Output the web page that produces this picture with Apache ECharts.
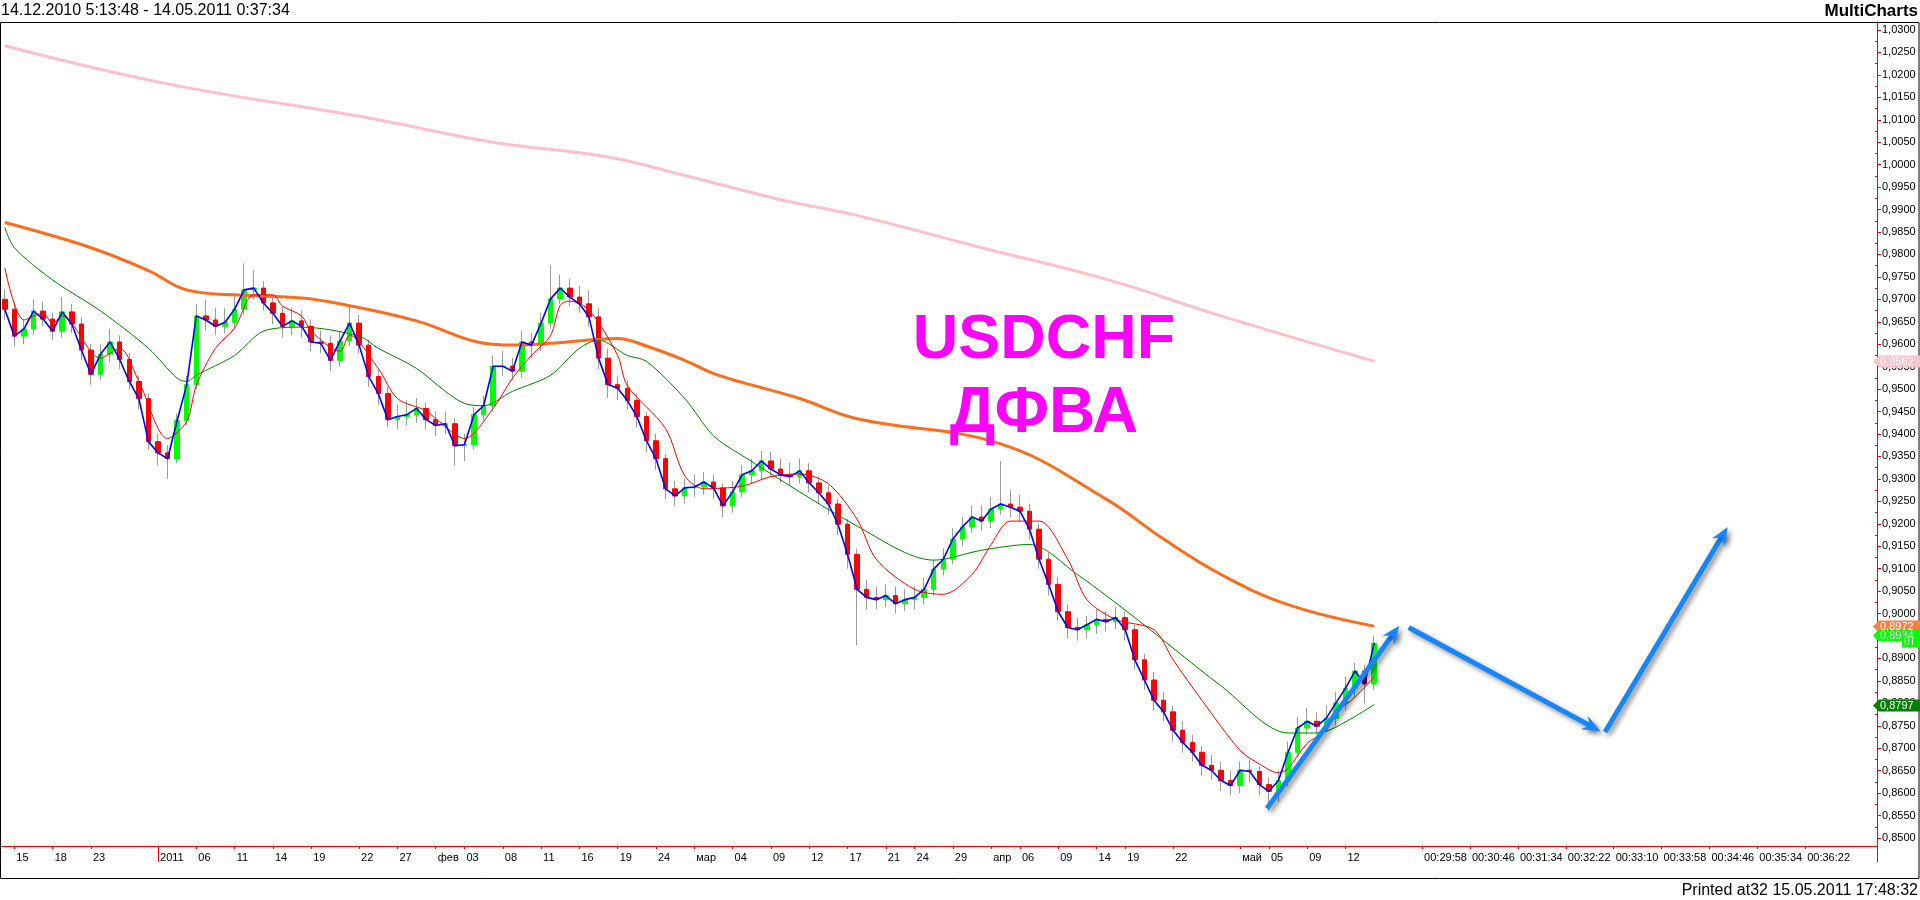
<!DOCTYPE html>
<html><head><meta charset="utf-8">
<script src="https://cdn.jsdelivr.net/npm/echarts@6/dist/echarts.min.js"></script>
<style>html,body{margin:0;padding:0;background:#fff}#c{width:1920px;height:900px}</style>
</head><body><div id="c"></div>
<script>
const SLOTS = 196;
const open = [0.9700,0.9678,0.9618,0.9634,0.9674,0.9656,0.9629,0.9672,0.9645,0.9587,
0.9533,0.9578,0.9605,0.9566,0.9517,0.9479,0.9383,0.9358,0.9345,0.9430,
0.9510,0.9663,0.9654,0.9640,0.9649,0.9678,0.9721,0.9725,0.9692,0.9669,
0.9640,0.9652,0.9640,0.9605,0.9602,0.9564,0.9607,0.9647,0.9598,0.9528,
0.9490,0.9432,0.9439,0.9443,0.9457,0.9432,0.9419,0.9423,0.9374,0.9376,
0.9443,0.9463,0.9551,0.9551,0.9540,0.9605,0.9598,0.9647,0.9701,0.9725,
0.9705,0.9690,0.9661,0.9569,0.9510,0.9502,0.9475,0.9439,0.9385,0.9345,
0.9278,0.9262,0.9280,0.9282,0.9293,0.9280,0.9240,0.9271,0.9309,0.9318,
0.9340,0.9322,0.9309,0.9305,0.9318,0.9291,0.9269,0.9244,0.9199,0.9132,
0.9054,0.9036,0.9031,0.9040,0.9022,0.9031,0.9036,0.9054,0.9099,0.9121,
0.9166,0.9193,0.9215,0.9206,0.9233,0.9244,0.9237,0.9228,0.9188,0.9121,
0.9065,0.9004,0.8969,0.8964,0.8975,0.8987,0.8982,0.8991,0.8964,0.8897,
0.8852,0.8807,0.8781,0.8740,0.8713,0.8691,0.8662,0.8651,0.8628,0.8617,
0.8651,0.8648,0.8619,0.8604,0.8628,0.8691,0.8745,0.8760,0.8749,0.8767,
0.8801,0.8834,0.8872,0.8843];
const close = [0.9678,0.9618,0.9634,0.9674,0.9656,0.9629,0.9672,0.9645,0.9587,0.9533,
0.9578,0.9605,0.9566,0.9517,0.9479,0.9383,0.9358,0.9345,0.9430,0.9510,
0.9663,0.9654,0.9640,0.9649,0.9678,0.9721,0.9725,0.9692,0.9669,0.9640,
0.9652,0.9640,0.9605,0.9602,0.9564,0.9607,0.9647,0.9598,0.9528,0.9490,
0.9432,0.9439,0.9443,0.9457,0.9432,0.9419,0.9423,0.9374,0.9376,0.9443,
0.9463,0.9551,0.9551,0.9540,0.9605,0.9598,0.9647,0.9701,0.9725,0.9705,
0.9690,0.9661,0.9569,0.9510,0.9502,0.9475,0.9439,0.9385,0.9345,0.9278,
0.9262,0.9280,0.9282,0.9293,0.9280,0.9240,0.9271,0.9309,0.9318,0.9340,
0.9322,0.9309,0.9305,0.9318,0.9291,0.9269,0.9244,0.9199,0.9132,0.9054,
0.9036,0.9031,0.9040,0.9022,0.9031,0.9036,0.9054,0.9099,0.9121,0.9166,
0.9193,0.9215,0.9206,0.9233,0.9244,0.9237,0.9228,0.9188,0.9121,0.9065,
0.9004,0.8969,0.8964,0.8975,0.8987,0.8982,0.8991,0.8964,0.8897,0.8852,
0.8807,0.8781,0.8740,0.8713,0.8691,0.8662,0.8651,0.8628,0.8617,0.8651,
0.8648,0.8619,0.8604,0.8628,0.8691,0.8745,0.8760,0.8749,0.8767,0.8801,
0.8834,0.8872,0.8843,0.8934];
const high = [0.9722,0.9695,0.9655,0.9700,0.9695,0.9670,0.9705,0.9690,0.9660,0.9600,
0.9600,0.9635,0.9620,0.9580,0.9530,0.9490,0.9400,0.9375,0.9445,0.9530,
0.9690,0.9700,0.9680,0.9680,0.9710,0.9780,0.9765,0.9740,0.9705,0.9685,
0.9680,0.9675,0.9655,0.9630,0.9620,0.9630,0.9690,0.9665,0.9610,0.9545,
0.9505,0.9465,0.9475,0.9480,0.9470,0.9450,0.9450,0.9435,0.9400,0.9460,
0.9485,0.9575,0.9585,0.9570,0.9630,0.9625,0.9670,0.9775,0.9755,0.9745,
0.9730,0.9720,0.9680,0.9590,0.9530,0.9520,0.9490,0.9450,0.9400,0.9355,
0.9295,0.9300,0.9310,0.9315,0.9310,0.9290,0.9295,0.9330,0.9345,0.9362,
0.9360,0.9345,0.9335,0.9345,0.9335,0.9305,0.9285,0.9255,0.9210,0.9145,
0.9075,0.9060,0.9065,0.9060,0.9055,0.9060,0.9080,0.9120,0.9145,0.9190,
0.9215,0.9240,0.9240,0.9260,0.9340,0.9275,0.9265,0.9245,0.9200,0.9135,
0.9080,0.9020,0.8990,0.8995,0.9010,0.9005,0.9015,0.9005,0.8975,0.8910,
0.8870,0.8825,0.8795,0.8760,0.8730,0.8705,0.8685,0.8670,0.8650,0.8670,
0.8675,0.8660,0.8635,0.8650,0.8715,0.8770,0.8790,0.8780,0.8795,0.8825,
0.8860,0.8890,0.8885,0.8950];
const low = [0.9655,0.9595,0.9600,0.9620,0.9640,0.9610,0.9615,0.9625,0.9565,0.9510,
0.9520,0.9560,0.9545,0.9500,0.9455,0.9365,0.9330,0.9300,0.9335,0.9420,
0.9500,0.9630,0.9620,0.9625,0.9635,0.9665,0.9700,0.9675,0.9645,0.9615,
0.9620,0.9615,0.9585,0.9580,0.9540,0.9550,0.9595,0.9580,0.9505,0.9465,
0.9415,0.9410,0.9420,0.9425,0.9410,0.9395,0.9400,0.9330,0.9340,0.9365,
0.9430,0.9450,0.9530,0.9520,0.9525,0.9570,0.9585,0.9635,0.9690,0.9685,
0.9670,0.9640,0.9545,0.9480,0.9475,0.9455,0.9415,0.9360,0.9320,0.9255,
0.9240,0.9245,0.9260,0.9265,0.9255,0.9215,0.9225,0.9260,0.9290,0.9300,
0.9305,0.9290,0.9285,0.9290,0.9270,0.9245,0.9220,0.9175,0.9100,0.8930,
0.9010,0.9010,0.9015,0.9000,0.9005,0.9010,0.9020,0.9040,0.9085,0.9110,
0.9150,0.9180,0.9185,0.9190,0.9220,0.9215,0.9205,0.9165,0.9100,0.9040,
0.8985,0.8945,0.8940,0.8945,0.8955,0.8960,0.8965,0.8940,0.8875,0.8830,
0.8785,0.8760,0.8715,0.8690,0.8670,0.8640,0.8630,0.8605,0.8595,0.8600,
0.8625,0.8595,0.8560,0.8580,0.8615,0.8680,0.8730,0.8730,0.8735,0.8750,
0.8785,0.8815,0.8800,0.8830];

const pinkMA = [[0,1.0265],[17,1.0180],[38,1.0104],[51,1.0050],[63,1.0017],[71,0.9976],[81,0.9922],[89,0.9887],[102,0.9815],[115,0.9745],[127,0.9663],[143,0.9562]];
const orangeMA = [[0,0.9871],[9,0.9815],[15,0.9764],[19,0.9721],[24,0.9710],[31,0.9703],[35,0.9690],[43,0.9652],[50,0.9602],[53,0.9598],[57,0.9602],[64,0.9613],[67,0.9596],[71,0.9564],[74,0.9535],[77,0.9515],[83,0.9479],[89,0.9434],[104,0.9378],[115,0.9255],[121,0.9166],[127,0.9087],[134,0.9020],[143,0.8972]];
const greenMA = [[0,0.9860],[1,0.9815],[5,0.9743],[10,0.9674],[15,0.9591],[18,0.9524],[19,0.9517],[20,0.9531],[24,0.9575],[27,0.9629],[31,0.9638],[37,0.9618],[39,0.9591],[43,0.9546],[46,0.9495],[48,0.9468],[50,0.9463],[53,0.9495],[57,0.9531],[60,0.9591],[62,0.9609],[65,0.9575],[67,0.9562],[71,0.9479],[74,0.9396],[77,0.9352],[89,0.9195],[97,0.9119],[102,0.9141],[107,0.9154],[112,0.9087],[118,0.8991],[127,0.8839],[134,0.8734],[137,0.8734],[139,0.8747],[143,0.8797]];
const redMA = [[0,0.9770],[2,0.9654],[4,0.9669],[5,0.9647],[6,0.9663],[10,0.9569],[12,0.9591],[14,0.9517],[17,0.9390],[19,0.9428],[20,0.9508],[22,0.9591],[24,0.9636],[26,0.9710],[28,0.9710],[29,0.9685],[31,0.9663],[32,0.9629],[35,0.9584],[36,0.9620],[39,0.9546],[41,0.9479],[44,0.9452],[45,0.9434],[48,0.9390],[51,0.9457],[53,0.9524],[55,0.9575],[57,0.9620],[58,0.9687],[59,0.9696],[61,0.9676],[64,0.9575],[65,0.9508],[69,0.9412],[71,0.9307],[73,0.9278],[77,0.9284],[80,0.9305],[83,0.9311],[86,0.9289],[89,0.9210],[91,0.9121],[95,0.9054],[98,0.9043],[101,0.9087],[103,0.9154],[105,0.9206],[108,0.9206],[111,0.9121],[113,0.9031],[116,0.8987],[120,0.8964],[122,0.8897],[125,0.8807],[129,0.8695],[131,0.8665],[133,0.8645],[134,0.8655],[136,0.8711],[138,0.8740],[139,0.8778],[141,0.8814],[143,0.8859]];

const arrows = [
  [[131.8,0.8566],[145.6,0.8973]],
  [[146.6,0.8969],[166.6,0.8738]],
  [[167.1,0.8736],[179.9,0.9193]]
];

const xLabelSlots = [1,5,9,16,20,24,28,32,37,41,45,48,52,56,60,64,68,72,76,80,84,88,92,95,99,103,106,110,114,117,122,129,132,136,140,148,153,158,163,168,173,178,183,188];
const xLabels = ['15','18','23','2011','06','11','14','19','22','27','фев','03','08','11','16','19','24','мар','04','09','12','17','21','24','29','апр','06','09','14','19','22','май','05','09','12','00:29:58','00:30:46','00:31:34','00:32:22','00:33:10','00:33:58','00:34:46','00:35:34','00:36:22'];
const yTicks = [0.85,0.855,0.86,0.865,0.87,0.875,0.88,0.885,0.89,0.895,0.90,0.905,0.91,0.915,0.92,0.925,0.93,0.935,0.94,0.945,0.95,0.955,0.96,0.965,0.97,0.975,0.98,0.985,0.99,0.995,1.00,1.005,1.01,1.015,1.02,1.025,1.03];
const yMinorTicks = [0.8525,0.8575,0.8625,0.8675,0.8725,0.8775,0.8825,0.8875,0.8925,0.8975,0.9025,0.9075,0.9125,0.9175,0.9225,0.9275,0.9325,0.9375,0.9425,0.9475,0.9525,0.9575,0.9625,0.9675,0.9725,0.9775,0.9825,0.9875,0.9925,0.9975,1.0025,1.0075,1.0125,1.0175,1.0225,1.0275];

const FONT = '"Liberation Sans", Arial, sans-serif';
const Y_MIN = 0.84822, Y_MAX = 1.03178;
const GRID = {left: 0, right: 43, top: 22, bottom: 54};
const chart = echarts.init(document.getElementById('c'), null, {renderer:'canvas'});
const cats = Array.from({length: SLOTS}, (_, i) => String(i));
const labelMap = {}; xLabelSlots.forEach((s, k) => { labelMap[s] = xLabels[k]; });
const candleData = close.map((c, i) => [open[i], c, low[i], high[i]]);
const bodyData = close.map((c, i) => [open[i], c, Math.min(open[i], c), Math.max(open[i], c)]);
const fmt = v => v.toFixed(4).replace('.', ',');
const RED = '#ff0000';
const plotH = 900 - GRID.top - GRID.bottom;
const plotW = 1920 - GRID.left - GRID.right;

chart.setOption({
  animation: false,
  backgroundColor: '#fff',
  grid: Object.assign({containLabel: false}, GRID),
  xAxis: [
    {type: 'category', data: cats, boundaryGap: true, position: 'bottom',
     axisLine: {show: true, lineStyle: {color: RED, width: 1}},
     axisTick: {show: true, alignWithLabel: true, length: 3, lineStyle: {color: RED},
       interval: (i) => labelMap[i] !== undefined},
     axisLabel: {show: true, interval: (i) => labelMap[i] !== undefined,
       formatter: (v, i) => labelMap[i] || '', align: 'left', margin: 6, padding: [0,0,0,2],
       color: '#000', fontSize: 11, fontFamily: FONT},
     splitLine: {show: false}},
    {type: 'category', data: cats, boundaryGap: true, position: 'top', offset: -plotH,
     axisLine: {show: false}, axisLabel: {show: false}, splitLine: {show: false},
     axisTick: {show: true, inside: true, alignWithLabel: true, length: 16, lineStyle: {color: RED},
       interval: (i) => labelMap[i] === '2011'}}
  ],
  yAxis: [
    {type: 'value', position: 'right', min: Y_MIN, max: Y_MAX,
     axisLine: {show: true, lineStyle: {color: RED}},
     axisTick: {show: true, length: 4, lineStyle: {color: RED}, customValues: yTicks},
     axisLabel: {show: true, customValues: yTicks, formatter: fmt, margin: 5,
       color: '#000', fontSize: 11, fontFamily: FONT},
     splitLine: {show: false}},
    {type: 'value', position: 'left', offset: -plotW, min: Y_MIN, max: Y_MAX,
     axisLine: {show: false}, axisLabel: {show: false}, splitLine: {show: false},
     axisTick: {show: true, inside: false, length: 2, lineStyle: {color: RED}, customValues: yMinorTicks}}
  ],
  series: [
    {type: 'candlestick', name: 'wick', data: candleData, barWidth: 1, z: 2,
     itemStyle: {color: '#9a9a9a', color0: '#9a9a9a', borderColor: '#9a9a9a', borderColor0: '#9a9a9a', borderWidth: 1}},
    {type: 'candlestick', name: 'body', data: bodyData, barWidth: 5, z: 3,
     itemStyle: {color: '#00ff00', color0: '#ff0000', borderColor: '#00ff00', borderColor0: '#ff0000', borderWidth: 1}},
    {type: 'line', name: 'pink', data: pinkMA.map(p => [String(p[0]), p[1]]), symbol: 'none', smooth: 0.4, z: 4,
     lineStyle: {color: '#ffc0cb', width: 3}},
    {type: 'line', name: 'orange', data: orangeMA.map(p => [String(p[0]), p[1]]), symbol: 'none', smooth: 0.4, z: 4,
     lineStyle: {color: '#ff6c1e', width: 3}},
    {type: 'line', name: 'green', data: greenMA.map(p => [String(p[0]), p[1]]), symbol: 'none', smooth: 0.3, z: 5,
     lineStyle: {color: '#008000', width: 1}},
    {type: 'line', name: 'red', data: redMA.map(p => [String(p[0]), p[1]]), symbol: 'none', smooth: 0.3, z: 5,
     lineStyle: {color: '#ff0000', width: 1}},
    {type: 'line', name: 'blue', data: close, symbol: 'none', z: 6,
     lineStyle: {color: '#0000ff', width: 1.6}}
  ]
});

// arrows placed in data space through the axis scales (fractional slot positions)
const toPx = (s, v) => {
  const i = Math.floor(s), f = s - i;
  const x0 = chart.convertToPixel({xAxisIndex: 0}, String(i));
  const x1 = chart.convertToPixel({xAxisIndex: 0}, String(i + 1));
  return [x0 + (x1 - x0) * f, chart.convertToPixel({yAxisIndex: 0}, v)];
};
const g = [];
arrows.forEach(a => {
  const p1 = toPx(a[0][0], a[0][1]), p2 = toPx(a[1][0], a[1][1]);
  const ang = Math.atan2(p2[1] - p1[1], p2[0] - p1[0]);
  const L = 18, W = 7.5, back = 12;
  const ux = Math.cos(ang), uy = Math.sin(ang), nx = -uy, ny = ux;
  const head = [p2, [p2[0] - ux*L + nx*W, p2[1] - uy*L + ny*W], [p2[0] - ux*back, p2[1] - uy*back], [p2[0] - ux*L - nx*W, p2[1] - uy*L - ny*W]];
  const shadow = {shadowColor: 'rgba(0,0,0,0.45)', shadowBlur: 5, shadowOffsetX: 3, shadowOffsetY: 3};
  g.push({type: 'line', z: 60, silent: true, shape: {x1: p1[0], y1: p1[1], x2: p2[0] - ux*9, y2: p2[1] - uy*9},
    style: Object.assign({stroke: '#1686ff', lineWidth: 5}, shadow)});
  g.push({type: 'polygon', z: 61, silent: true, shape: {points: head}, style: Object.assign({fill: '#1686ff'}, shadow)});
});

// value tags on the price axis (last values of the series)
const tags = [
  {v: pinkMA[pinkMA.length-1][1], bg: '#ffc4ce', dy: 0},
  {v: orangeMA[orangeMA.length-1][1], bg: '#ff7f3f', dy: 0},
  {v: close[close.length-1], bg: '#00ff00', dy: -8},
  {v: greenMA[greenMA.length-1][1], bg: '#007f00', dy: 0}
];
const AX = 1920 - GRID.right;
tags.forEach(t => {
  const y = Math.round(chart.convertToPixel({yAxisIndex: 0}, t.v) + t.dy) + 0.5;
  g.push({type: 'polygon', z: 100, shape: {points: [[AX-4, y], [AX+2, y-6], [1920, y-6], [1920, y+6], [AX+2, y+6]]},
    style: {fill: t.bg}});
  g.push({type: 'text', z: 101, x: AX + 3, y: y, style: {text: fmt(t.v), fill: '#fff', font: '11px ' + FONT, verticalAlign: 'middle', align: 'left'}});
  if (t.dy !== 0) {
    g.push({type: 'rect', z: 102, shape: {x: 1902, y: y + 1, width: 18, height: 11}, style: {fill: t.bg}});
    g.push({type: 'text', z: 103, x: 1904, y: y + 7, style: {text: '0T', fill: '#fff', font: '10px ' + FONT, verticalAlign: 'middle'}});
  }
});
// frame and texts
g.push({type: 'rect', z: 90, silent: true, shape: {x: 0.5, y: 22.5, width: 1918.5, height: 856}, style: {fill: null, stroke: '#000', lineWidth: 1}});
g.push({type: 'line', z: 90, shape: {x1: AX + 0.5, y1: 846, x2: AX + 0.5, y2: 862}, style: {stroke: RED, lineWidth: 1}});
g.push({type: 'text', z: 90, x: 1, y: 11, style: {text: '14.12.2010 5:13:48 - 14.05.2011 0:37:34', font: '16px ' + FONT, fill: '#000', verticalAlign: 'middle'}});
g.push({type: 'text', z: 90, x: 1918, y: 11, style: {text: 'MultiCharts', font: 'bold 17px ' + FONT, fill: '#000', align: 'right', verticalAlign: 'middle'}});
g.push({type: 'text', z: 90, x: 1918, y: 891, style: {text: 'Printed at32 15.05.2011 17:48:32', font: '16px ' + FONT, fill: '#000', align: 'right', verticalAlign: 'middle'}});
g.push({type: 'text', z: 20, x: 1044, y: 341, style: {text: 'USDCHF', font: 'bold 63px ' + FONT, fill: '#ff00ff', align: 'center', verticalAlign: 'middle'}});
g.push({type: 'text', z: 20, x: 1044, y: 414, style: {text: 'ДФВА', font: 'bold 64px ' + FONT, fill: '#ff00ff', align: 'center', verticalAlign: 'middle'}});
chart.setOption({graphic: g});
</script></body></html>
